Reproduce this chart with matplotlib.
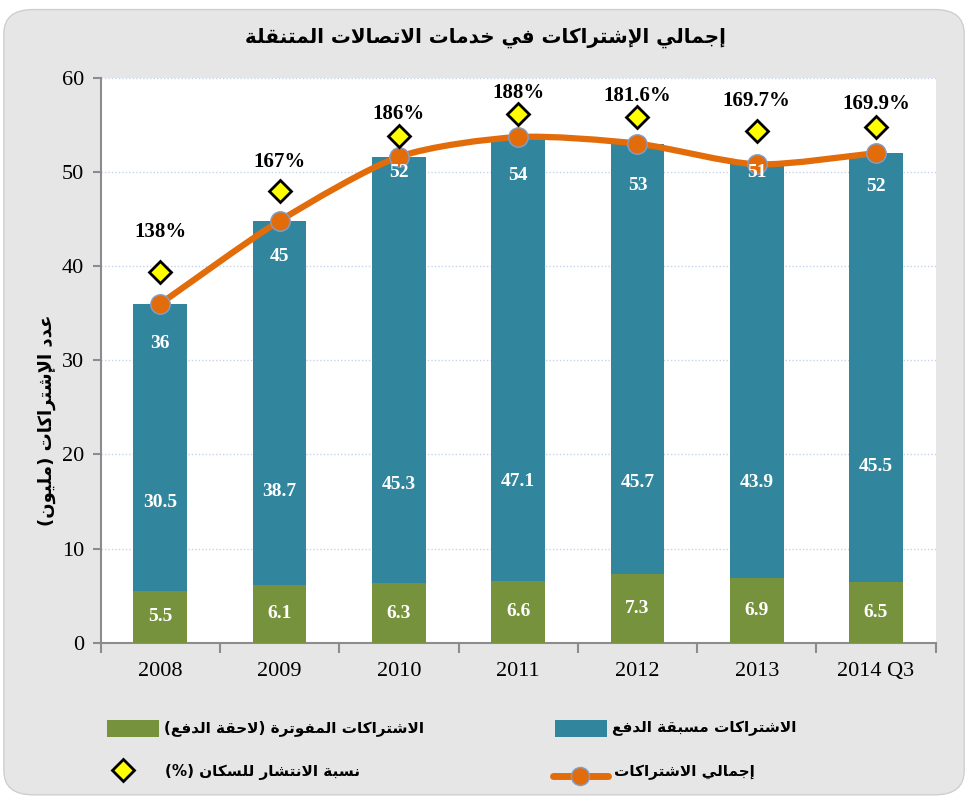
import numpy as np
import matplotlib.pyplot as plt
from matplotlib.patches import FancyBboxPatch, Rectangle, PathPatch
from matplotlib.path import Path
from matplotlib.lines import Line2D

# ---- data ----
years = ['2008', '2009', '2010', '2011', '2012', '2013', '2014 Q3']
postpaid = [5.5, 6.1, 6.3, 6.6, 7.3, 6.9, 6.5]
prepaid = [30.5, 38.7, 45.3, 47.1, 45.7, 43.9, 45.5]
penetration = ['138%', '167%', '186%', '188%', '181.6%', '169.7%', '169.9%']
# heights (in axis units) where the diamonds / labels sit in the original
diamond_level = [39.4, 48.0, 53.8, 56.1, 55.8, 54.3, 54.8]
pct_label_level = [43.6, 51.1, 56.1, 58.4, 58.1, 57.5, 57.2]
total_label_level = [31.8, 41.0, 49.9, 49.6, 48.6, 49.9, 48.4]
prepaid_label_level = [14.9, 16.1, 16.8, 17.1, 17.0, 17.0, 18.7]

title = 'إجمالي الإشتراكات في خدمات الاتصالات المتنقلة'
ylabel = 'عدد الإشتراكات (مليون)'
leg_post = 'الاشتراكات المفوترة (لاحقة الدفع)'
leg_pre = 'الاشتراكات مسبقة الدفع'
leg_pen = 'نسبة الانتشار للسكان (%)'
leg_tot = 'إجمالي الاشتراكات'

GREEN = '#77923c'
TEAL = '#31859c'
ORANGE = '#e36c0a'


# ---- tiny arabic shaper (matplotlib has no text shaping) ----
four = {'ئ': 0xFE89, 'ب': 0xFE8F, 'ت': 0xFE95, 'ث': 0xFE99, 'ج': 0xFE9D,
        'ح': 0xFEA1, 'خ': 0xFEA5, 'س': 0xFEB1, 'ش': 0xFEB5, 'ص': 0xFEB9,
        'ض': 0xFEBD, 'ط': 0xFEC1, 'ظ': 0xFEC5, 'ع': 0xFEC9, 'غ': 0xFECD,
        'ف': 0xFED1, 'ق': 0xFED5, 'ك': 0xFED9, 'ل': 0xFEDD, 'م': 0xFEE1,
        'ن': 0xFEE5, 'ه': 0xFEE9, 'ي': 0xFEF1}
two = {'آ': 0xFE81, 'أ': 0xFE83, 'ؤ': 0xFE85, 'إ': 0xFE87, 'ا': 0xFE8D,
       'ة': 0xFE93, 'د': 0xFEA9, 'ذ': 0xFEAB, 'ر': 0xFEAD, 'ز': 0xFEAF,
       'و': 0xFEED, 'ى': 0xFEEF}
lamalef = {'آ': 0xFEF5, 'أ': 0xFEF7, 'إ': 0xFEF9, 'ا': 0xFEFB}


def shape(s):
    # merge lam + alef into ligature tokens
    toks = []
    i = 0
    while i < len(s):
        if s[i] == 'ل' and i + 1 < len(s) and s[i + 1] in lamalef:
            toks.append(('LA', s[i + 1]))
            i += 2
        else:
            toks.append((s[i], None))
            i += 1

    def is_ar(t):
        return t[0] == 'LA' or t[0] in four or t[0] in two

    def joins_next(t):
        return t[0] in four

    out = []
    for k, t in enumerate(toks):
        prev = toks[k - 1] if k > 0 else None
        nxt = toks[k + 1] if k + 1 < len(toks) else None
        jp = prev is not None and joins_next(prev)
        jn = joins_next(t) and nxt is not None and is_ar(nxt)
        if t[0] == 'LA':
            out.append(chr(lamalef[t[1]] + (1 if jp else 0)))
        elif t[0] in four:
            b = four[t[0]]
            if jp and jn:
                out.append(chr(b + 3))
            elif jp:
                out.append(chr(b + 1))
            elif jn:
                out.append(chr(b + 2))
            else:
                out.append(chr(b))
        elif t[0] in two:
            out.append(chr(two[t[0]] + (1 if jp else 0)))
        else:
            out.append(t[0])
    vis = ''.join(reversed(out))
    return vis.translate(str.maketrans('()', ')('))


AR = 'DejaVu Sans'
NUM = 'Liberation Serif'

fig = plt.figure(figsize=(9.7, 7.98), dpi=100)
fig.patch.set_facecolor('white')
bg = FancyBboxPatch((0.004, 0.004), 0.990, 0.984, boxstyle='round,pad=0,rounding_size=0.03',
                    transform=fig.transFigure, facecolor='#e6e6e6', edgecolor='#cfcfcf',
                    linewidth=1, zorder=-10)
fig.patches.append(bg)

ax = fig.add_axes([0.1038, 0.1946, 0.8608, 0.708])
ax.set_facecolor('white')

x = np.arange(len(years))
w = 0.45
ax.bar(x, postpaid, w, color=GREEN, zorder=3)
ax.bar(x, prepaid, w, bottom=postpaid, color=TEAL, zorder=3)
totals = [a + b for a, b in zip(postpaid, prepaid)]

# smoothed total line (bezier through the data points, mild tension)
pts = np.column_stack([x, totals])
ext = np.vstack([pts[0], pts, pts[-1]])
verts = [tuple(pts[0])]
codes = [Path.MOVETO]
for i in range(len(pts) - 1):
    p0, p1, p2, p3 = ext[i], ext[i + 1], ext[i + 2], ext[i + 3]
    c1 = p1 + (p2 - p0) / 8
    c2 = p2 - (p3 - p1) / 8
    verts += [tuple(c1), tuple(c2), tuple(p2)]
    codes += [Path.CURVE4] * 3
ax.add_patch(PathPatch(Path(verts, codes), facecolor='none', edgecolor=ORANGE,
                       linewidth=4.5, zorder=4, capstyle='round'))
ax.plot(x, totals, linestyle='none', marker='o', markersize=14, markerfacecolor=ORANGE,
        markeredgecolor='#7f9fd0', markeredgewidth=1, zorder=5)

ax.plot(x, diamond_level, linestyle='none', marker='D', markersize=11,
        markerfacecolor='#ffff00', markeredgecolor='black', markeredgewidth=2, zorder=5)

for i in range(len(years)):
    ax.text(x[i], pct_label_level[i], penetration[i], ha='center', va='center',
            fontsize=15, fontweight='bold', family=NUM, zorder=6)
    ax.text(x[i], total_label_level[i], f'{round(totals[i])}', ha='center', va='center',
            fontsize=14, fontweight='bold', family=NUM, color='white', zorder=6)
    ax.text(x[i], prepaid_label_level[i], f'{prepaid[i]}', ha='center', va='center',
            fontsize=14, fontweight='bold', family=NUM, color='white', zorder=6)
    ax.text(x[i], postpaid[i] / 2, f'{postpaid[i]}', ha='center', va='center',
            fontsize=14, fontweight='bold', family=NUM, color='white', zorder=6)

ax.set_xlim(-0.5, len(years) - 0.5)
ax.set_ylim(0, 60)
ax.set_yticks(range(0, 61, 10))
ax.yaxis.grid(True, linestyle=(0, (1, 1.5)), color='#c5d3ea', linewidth=1, zorder=0)
ax.set_axisbelow(True)
for s in ['top', 'right']:
    ax.spines[s].set_visible(False)
for s in ['left', 'bottom']:
    ax.spines[s].set_color('#8c8c8c')
    ax.spines[s].set_linewidth(1.5)

ax.set_xticks(x)
ax.set_xticklabels(years, family=NUM, fontsize=16)
ax.set_xticks(np.arange(-0.5, len(years)), minor=True)
ax.tick_params(axis='x', which='major', length=0, pad=14)
ax.tick_params(axis='x', which='minor', length=7, width=1.5, color='#8c8c8c')
ax.tick_params(axis='y', length=6, width=1.5, color='#8c8c8c', pad=6)
for lab in ax.get_yticklabels():
    lab.set_family(NUM)
    lab.set_fontsize(16)

fig.text(0.5, 1 - 38 / 798, shape(title), ha='center', va='center', family=AR,
         fontweight='bold', fontsize=14.3)
fig.text(47 / 970, 1 - 420 / 798, shape(ylabel), ha='center', va='center', family=AR,
         fontweight='bold', fontsize=13, rotation=90)

# ---- legend drawn by hand ----
W, H = 970, 798


def fx(px):
    return px / W


def fy(py):
    return 1 - py / H


fig.patches.append(Rectangle((fx(107), fy(737)), 52 / W, 17 / H, transform=fig.transFigure,
                             facecolor=GREEN, edgecolor='none'))
fig.patches.append(Rectangle((fx(555), fy(737)), 52 / W, 17 / H, transform=fig.transFigure,
                             facecolor=TEAL, edgecolor='none'))
fig.lines.append(Line2D([fx(553), fx(608)], [fy(776), fy(776)], transform=fig.transFigure,
                        color=ORANGE, linewidth=5, solid_capstyle='round'))
fig.lines.append(Line2D([fx(580)], [fy(776)], transform=fig.transFigure, marker='o',
                        markersize=13, markerfacecolor=ORANGE, markeredgecolor='#7f9fd0',
                        markeredgewidth=1))
fig.lines.append(Line2D([fx(123)], [fy(770)], transform=fig.transFigure, marker='D',
                        markersize=11, markerfacecolor='#ffff00', markeredgecolor='black',
                        markeredgewidth=2))

LEG = 11
fig.text(fx(164), fy(728), shape(leg_post), ha='left', va='center', family=AR,
         fontweight='bold', fontsize=LEG)
fig.text(fx(612), fy(728), shape(leg_pre), ha='left', va='center', family=AR,
         fontweight='bold', fontsize=LEG)
fig.text(fx(165), fy(772), shape(leg_pen), ha='left', va='center', family=AR,
         fontweight='bold', fontsize=LEG)
fig.text(fx(614), fy(772), shape(leg_tot), ha='left', va='center', family=AR,
         fontweight='bold', fontsize=LEG)

fig.savefig('out.png', dpi=100)
